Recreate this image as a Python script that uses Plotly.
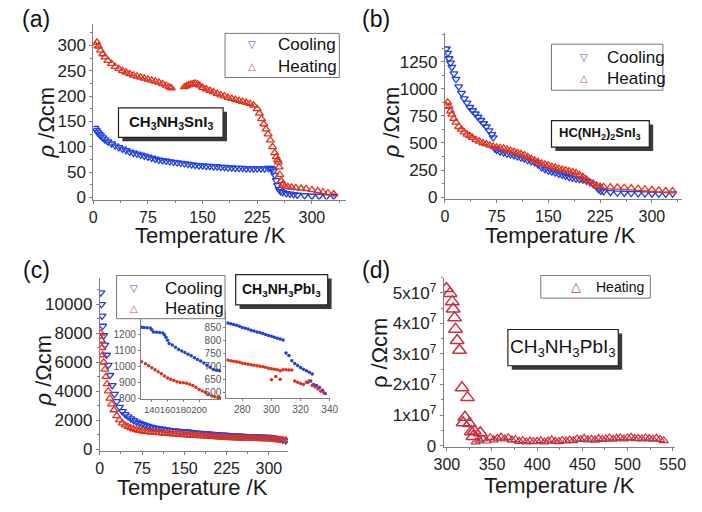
import plotly.graph_objects as go

# ---------------- data ----------------
# (a) CH3NH3SnI3
a_cool_T = [2, 4, 6, 8, 10, 13, 16, 20,
            25, 30, 35, 40, 45, 50, 55, 60, 65, 70, 75, 80, 85, 90, 95, 100,
            105, 110, 115, 120, 125, 130, 135, 140, 145, 150, 155, 160, 165, 170,
            175, 180, 185, 190, 195, 200, 205, 210, 215, 220, 225, 230, 235, 240,
            243, 245, 247, 249, 251, 253, 255, 257, 260,
            265, 270, 275, 280, 290, 300, 310, 320, 330]
a_cool_rho = [137, 133, 129, 125, 122, 118, 114, 110,
              106, 102, 99, 96, 93, 90, 88, 86, 84, 82, 80, 78, 76, 74, 73, 72,
              71, 70, 69, 68, 67, 66, 65, 64, 63, 63, 62, 62, 61, 61,
              60, 60, 59, 59, 58, 58, 58, 57, 57, 57, 57, 57, 57, 58,
              58, 56, 52, 44, 34, 24, 16, 12, 10,
              8, 7, 6, 5, 4, 3, 3, 2, 3]
a_heat_T = [3, 5, 7, 10, 13, 16, 20,
            25, 30, 35, 40, 45, 50, 55, 60, 65, 70, 75, 80, 85, 90, 95, 100,
            104, 107,
            125, 128, 131, 134, 137, 140, 143, 146, 150,
            155, 160, 165, 170, 175, 180, 185, 190, 195, 200, 205, 210, 215, 220, 225,
            228, 231, 234, 237, 240, 243, 246, 249, 251, 253, 254, 255, 256, 258, 260,
            263, 267, 272, 278, 285, 292, 300, 308, 315, 322, 330]
a_heat_rho = [300, 306, 298, 290, 283, 277, 270,
              264, 258, 254, 250, 247, 244, 241, 239, 237, 235, 233, 231, 229, 227, 224, 221,
              218, 216,
              218, 220, 222, 223, 224, 225, 223, 221, 217,
              214, 211, 208, 205, 202, 200, 197, 195, 193, 191, 189, 187, 185, 182, 175,
              166, 155, 145, 135, 125, 113, 100, 88, 80, 74, 70, 60, 45, 33, 26,
              22, 21, 20, 19, 18, 17, 15, 13, 11, 9, 7]

# (b) HC(NH2)2SnI3
b_cool_T = [2, 4, 6, 8, 10, 13, 16, 20,
            24, 28, 32, 36, 40, 44, 48, 52, 56, 60, 64, 68, 70,
            72, 75,
            80, 85, 90, 95, 100, 105, 110, 115, 120, 125, 130, 135, 140, 145, 150,
            155, 160, 165, 170, 175, 180, 185, 190, 195, 200, 205, 210, 215, 220,
            223, 226, 230,
            240, 250, 260, 270, 280, 290, 300, 310, 320, 330]
b_cool_rho = [1370, 1330, 1280, 1240, 1200, 1140, 1090, 1020,
              960, 910, 870, 830, 800, 770, 740, 710, 680, 650, 615, 580, 550,
              450, 435,
              420, 410, 400, 395, 385, 375, 365, 355, 340, 330, 320, 300, 275, 258, 245,
              235, 225, 215, 205, 195, 185, 178, 170, 165, 160, 150, 140, 120, 95,
              70, 58, 52,
              45, 40, 38, 36, 34, 32, 31, 30, 30, 32]
b_heat_T = [2, 4, 6, 8, 10, 13, 16, 20, 24, 28, 32, 36, 40,
            45, 50, 55, 60, 65, 70, 75, 80, 85, 90, 95, 100, 105, 110, 115, 120,
            125, 130, 135, 140, 145, 150, 155, 160, 165, 170, 175, 180, 185, 190,
            195, 200, 205, 210, 215, 220, 225, 230,
            240, 250, 260, 270, 280, 290, 300, 310, 320, 330]
b_heat_rho = [840, 875, 835, 795, 765, 725, 690, 650, 625, 600, 580, 565, 550,
              530, 515, 500, 490, 478, 468, 460, 455, 450, 440, 430, 420, 410, 400, 388, 372,
              355, 340, 325, 312, 302, 293, 283, 273, 263, 255, 248, 240, 232, 222,
              205, 188, 165, 140, 120, 105, 97, 95,
              92, 90, 87, 83, 78, 73, 68, 62, 58, 55]

# (c) CH3NH3PbI3 (main)
c_cool_T = [2, 3, 4, 5, 7, 9, 12, 15, 18, 22, 26, 30,
            35, 40, 45, 50, 55, 60, 65, 70, 75, 80, 85, 90, 95,
            100, 105, 110, 115, 120, 125, 130, 135, 140, 145,
            150, 155, 160, 165, 170, 175, 180, 185, 190, 195,
            200, 205, 210, 215, 220, 225, 230, 235, 240, 245,
            250, 255, 260, 265, 270, 275, 280, 285, 290, 295,
            300, 305, 310, 315, 320, 325, 330]
c_cool_rho = [10800, 10000, 9200, 8500, 7850, 7200, 6500, 5800, 5100, 4400, 3800, 3300,
              2900, 2600, 2400, 2250, 2100, 1980, 1880, 1800, 1720, 1650, 1590, 1540, 1490,
              1450, 1420, 1390, 1360, 1330, 1300, 1280, 1260, 1245, 1230,
              1220, 1210, 1170, 1140, 1125, 1110, 1095, 1080, 1065, 1050,
              1035, 1020, 1005, 990, 975, 960, 950, 940, 930, 920,
              910, 900, 885, 875, 866, 858, 850, 842, 835, 828,
              820, 810, 760, 720, 690, 640, 590]
c_heat_T = [2, 3, 4, 5, 7, 9, 11, 13, 15, 18, 21, 25,
            30, 35, 40, 45, 50, 55, 60, 65, 70, 75, 80, 85, 90, 95,
            100, 105, 110, 115, 120, 125, 130, 135, 140, 145,
            150, 155, 160, 165, 170, 175, 180, 185, 190, 195,
            200, 205, 210, 215, 220, 225, 230, 235, 240, 245,
            250, 255, 260, 265, 270, 275, 280, 285, 290, 295,
            300, 305, 310, 315, 320, 325, 330]
c_heat_rho = [8000, 7500, 7000, 6500, 6000, 5500, 5000, 4500, 4000, 3500, 3100, 2700,
              2300, 2000, 1800, 1650, 1550, 1460, 1390, 1330, 1280, 1240, 1210, 1185, 1165, 1150,
              1135, 1120, 1100, 1085, 1070, 1055, 1045, 1030, 1020, 1000,
              985, 970, 950, 935, 925, 918, 910, 902, 890, 878,
              860, 845, 832, 820, 808, 795, 785, 775, 765, 758,
              750, 745, 740, 735, 730, 725, 718, 712, 706, 702,
              698, 690, 680, 645, 630, 620, 600]

# (c) inset 1 (130-225 K)
i1_cool_T = [127, 130, 134, 138, 140, 142, 146, 150, 154, 156, 158, 160, 162, 166, 170,
             174, 178, 182, 186, 190, 194, 198, 202, 206, 210, 214, 218, 222, 226]
i1_cool_rho = [1247, 1246, 1244, 1243, 1232, 1218, 1216, 1214, 1212, 1200, 1185, 1165, 1145, 1135, 1122,
               1108, 1098, 1088, 1078, 1068, 1055, 1045, 1035, 1022, 1008, 995, 982, 976, 974]
i1_heat_T = [127, 132, 136, 140, 144, 148, 152, 156, 160, 164, 168, 172, 176,
             180, 184, 188, 192, 196, 200, 204, 208, 212, 216, 220, 224, 226]
i1_heat_rho = [1031, 1018, 1005, 992, 980, 967, 954, 941, 928, 920, 912, 905, 900,
               898, 894, 888, 880, 870, 856, 846, 836, 826, 815, 810, 805, 803]

# (c) inset 2 (270-340 K)
i2_cool_T = [270, 272, 274, 276, 278, 280, 282, 284, 286, 288, 290, 292, 294, 296, 298,
             300, 302, 304, 306, 308, 310, 312, 314, 316, 318, 320, 322, 324, 326, 328,
             325, 327, 329, 331, 333, 335, 337]
i2_cool_rho = [866, 863, 860, 857, 853, 849, 846, 843, 838, 835, 832, 830, 826, 822, 818,
               815, 812, 808, 805, 801, 752, 742, 722, 712, 704, 696, 690, 684, 678, 672,
               640, 645, 632, 628, 620, 610, 598]
i2_heat_T = [270, 272, 274, 276, 278, 280, 282, 284, 286, 288, 290, 292, 294, 296, 298,
             300, 302, 304, 306, 308, 310, 312, 314, 300, 303, 306,
             316, 318, 320, 322, 324, 326, 328, 330, 332, 334, 336]
i2_heat_rho = [725, 722, 720, 718, 716, 713, 711, 709, 707, 705, 703, 701, 699, 697, 694,
               692, 690, 688, 684, 688, 688, 687, 687, 650, 662, 652,
               645, 640, 636, 632, 640, 646, 628, 622, 615, 606, 600]

# (d) CH3NH3PbI3 above room temperature
d_T_steep = [299.5, 303.5, 306, 307, 308.6, 309.6, 311.4, 314, 316.8, 318,
             320, 322.9, 325, 327, 329, 330.4, 337]
d_rho_steep = [5.14e7, 4.98e7, 4.71e7, 4.47e7, 4.18e7, 3.81e7, 3.44e7, 3.12e7, 1.89e7, 0.75e7,
               0.93e7, 1.57e7, 0.72e7, 0.45e7, 0.30e7, 0.48e7, 0.42e7]
d_T_band = [332, 336, 340, 344, 348, 352, 356, 360, 364, 368, 372, 376, 380, 384, 388,
            392, 396, 400, 404, 408, 412, 416, 420, 424, 428, 432, 436, 440, 444, 448,
            452, 456, 460, 464, 468, 472, 476, 480, 484, 488, 492, 496, 500, 504, 508,
            512, 516, 520, 524, 528, 532, 536, 540]
d_rho_band_1e6 = [1.2, 1.8, 2.2, 1.5, 2.6, 1.9, 2.4, 2.8, 2.2, 2.6,
                  1.8, 2.0, 1.4, 1.6, 1.2, 1.5, 1.3, 1.4, 1.6, 1.2,
                  1.5, 1.9, 1.4, 1.3, 1.7, 1.5, 1.8, 1.6, 2.2, 2.0,
                  2.4, 1.9, 2.1, 1.8, 2.3, 2.0, 2.2, 2.5, 2.1, 2.4,
                  2.6, 2.2, 2.5, 2.7, 2.3, 2.4, 2.2, 2.5, 2.3, 2.1,
                  2.4, 2.0, 1.6]

x_ticks_low = [0, 75, 150, 225, 300]
a_y_ticks = [0, 50, 100, 150, 200, 250, 300]
b_y_ticks = [0, 250, 500, 750, 1000, 1250]
c_y_ticks = [0, 2000, 4000, 6000, 8000, 10000]
c_y_labels = ["0", "2000", "4000", "6000", "8000", "10000"]
d_x_ticks = [300, 350, 400, 450, 500, 550]
d_y_ticks = [0, 1e7, 2e7, 3e7, 4e7, 5e7]
d_y_labels = ["0", "1x10<sup>7</sup>", "2x10<sup>7</sup>", "3x10<sup>7</sup>",
              "4x10<sup>7</sup>", "5x10<sup>7</sup>"]
i1_x_ticks = [140, 160, 180, 200]
i1_y_ticks = [800, 900, 1000, 1100, 1200]
i2_x_ticks = [280, 300, 320, 340]
i2_y_ticks = [600, 650, 700, 750, 800, 850, 900]

legend_names = ["Cooling", "Heating"]

# ---------------- styling ----------------
W, H = 702, 512
FONT = "Liberation Sans, Arial, sans-serif"
SYMFONT = "DejaVu Sans, sans-serif"
BLUE = "#2040e0"
RED = "#e0321e"
LEG_BLUE = "#3848a8"
LEG_RED = "#c85a5a"
AXC = "#808080"


def fx(p):
    return p / W


def fy(p):
    return 1 - p / H


fig = go.Figure()


def add_pair(xa, ya, cT, cR, hT, hR):
    fig.add_trace(go.Scatter(
        x=cT, y=cR, mode="markers", name=legend_names[0], xaxis=xa, yaxis=ya, showlegend=False,
        marker=dict(symbol="triangle-down-open", size=7, color=BLUE,
                    line=dict(width=1.3, color=BLUE))))
    fig.add_trace(go.Scatter(
        x=hT, y=hR, mode="markers", name=legend_names[1], xaxis=xa, yaxis=ya, showlegend=False,
        marker=dict(symbol="triangle-up-open", size=7, color=RED,
                    line=dict(width=1.3, color=RED))))


add_pair("x", "y", a_cool_T, a_cool_rho, a_heat_T, a_heat_rho)
add_pair("x2", "y2", b_cool_T, b_cool_rho, b_heat_T, b_heat_rho)
add_pair("x3", "y3", c_cool_T, c_cool_rho, c_heat_T, c_heat_rho)

# insets
for xa, ya, cT, cR, hT, hR in [("x5", "y5", i1_cool_T, i1_cool_rho, i1_heat_T, i1_heat_rho),
                               ("x6", "y6", i2_cool_T, i2_cool_rho, i2_heat_T, i2_heat_rho)]:
    fig.add_trace(go.Scatter(x=cT, y=cR, mode="markers", xaxis=xa, yaxis=ya, showlegend=False,
                             marker=dict(symbol="circle", size=3.5, color=BLUE)))
    fig.add_trace(go.Scatter(x=hT, y=hR, mode="markers", xaxis=xa, yaxis=ya, showlegend=False,
                             marker=dict(symbol="circle", size=3.5, color=RED)))

# (d)
DRED = "#c83040"
fig.add_trace(go.Scatter(
    x=d_T_steep, y=d_rho_steep, mode="markers", name="Heating", xaxis="x4", yaxis="y4",
    showlegend=False,
    marker=dict(symbol="triangle-up-open", size=12, color=DRED, line=dict(width=1.5, color=DRED))))
fig.add_trace(go.Scatter(
    x=d_T_band, y=[v * 1e6 for v in d_rho_band_1e6], mode="markers", name="Heating",
    xaxis="x4", yaxis="y4", showlegend=False,
    marker=dict(symbol="triangle-up-open", size=8, color=DRED, line=dict(width=1.2, color=DRED))))


def axis(domain, rng, tickvals, anchor, minor_dtick=None, ticktext=None, size=17, tlen=3,
         color="#222"):
    d = dict(domain=domain, range=rng, anchor=anchor, tickmode="array", tickvals=tickvals,
             showline=True, linecolor=AXC, linewidth=1, ticks="outside", ticklen=tlen,
             tickcolor=AXC, showgrid=False, zeroline=False, tickangle=0,
             tickfont=dict(family=FONT, size=size, color=color))
    if ticktext is not None:
        d["ticktext"] = ticktext
    if minor_dtick is not None:
        d["minor"] = dict(ticks="outside", ticklen=2, tickcolor=AXC, dtick=minor_dtick,
                          tick0=tickvals[0], showgrid=False)
    return d


fig.update_layout(
    width=W, height=H, margin=dict(l=0, r=0, t=0, b=0),
    paper_bgcolor="white", plot_bgcolor="rgba(0,0,0,0)",
    font=dict(family=FONT, color="#111"), showlegend=False,
    xaxis=axis([fx(86), fx(347)], [0, 347], x_ticks_low, "y", 37.5, size=16),
    yaxis=axis([fy(201.5), fy(22)], [-4, 343], a_y_ticks, "x", 25),
    xaxis2=axis([fx(449), fx(694)], [0, 344], x_ticks_low, "y2", 37.5, size=16),
    yaxis2=axis([fy(201), fy(32)], [-18, 1512], b_y_ticks, "x2", 125),
    xaxis3=axis([fx(92.7), fx(287)], [0, 334], x_ticks_low, "y3", 37.5, size=16),
    yaxis3=axis([fy(457.5), fy(281)], [-100, 11850], c_y_ticks, "x3", 1000,
                ticktext=c_y_labels),
    xaxis4=axis([fx(447.7), fx(686)], [296.5, 552], d_x_ticks, "y4", 25, size=16),
    yaxis4=axis([fy(454), fy(281)], [-0.05e7, 5.5e7], d_y_ticks, "x4", 0.5e7,
                ticktext=d_y_labels),
    xaxis5=axis([fx(135), fx(218)], [126, 228], i1_x_ticks, "y5", None, size=9.5, tlen=2, color="#555"),
    yaxis5=axis([fy(405), fy(320)], [795, 1320], i1_y_ticks, "x5", None, size=10, tlen=2, color="#555"),
    xaxis6=axis([fx(223.3), fx(330)], [269, 340], i2_x_ticks, "y6", None, size=10, tlen=2, color="#555"),
    yaxis6=axis([fy(404), fy(315)], [580, 912], i2_y_ticks, "x6", None, size=10, tlen=2, color="#555"),
)


def rect(x0, y0, x1, y1, fill, lw=0.0, lc="#222"):
    fig.add_shape(type="rect", xref="paper", yref="paper",
                  x0=fx(x0), x1=fx(x1), y0=fy(y1), y1=fy(y0),
                  fillcolor=fill, line=dict(width=lw, color=lc))


def ann(text, x, y, size, angle=0, bold=False, xanchor="center", color="#111", family=FONT):
    fig.add_annotation(text=f"<b>{text}</b>" if bold else text, xref="paper", yref="paper",
                       x=fx(x), y=fy(y), xanchor=xanchor, yanchor="middle",
                       showarrow=False, textangle=angle,
                       font=dict(family=family, size=size, color=color))


# boxes with drop shadows behind the compound labels
for x0, y0, x1, y1 in [(112, 108, 220, 138), (559, 121, 660, 148),
                       (233, 278, 328, 309), (514, 334, 628, 371)]:
    rect(x0 + 4, y0 + 4, x1 + 4, y1 + 4, "#3a3a3a")
    rect(x0, y0, x1, y1, "white", 1.2)

ann("CH<sub>3</sub>NH<sub>3</sub>SnI<sub>3</sub>", 166, 123, 15, bold=True)
ann("HC(NH<sub>2</sub>)<sub>2</sub>SnI<sub>3</sub>", 609.5, 134.5, 13, bold=True)
ann("CH<sub>3</sub>NH<sub>3</sub>PbI<sub>3</sub>", 280.5, 293.5, 14, bold=True)
ann("CH<sub>3</sub>NH<sub>3</sub>PbI<sub>3</sub>", 571, 352.5, 19)

# legend boxes (frame, key glyphs, labels)
legends = [((222, 32, 340, 77), 250, 275, (43.5, 65.5), 17),
           ((559, 43, 674, 90), 593, 614, (57, 78), 17),
           ((110, 279, 222, 323), 128, 158, (292.5, 312.5), 17)]
for (x0, y0, x1, y1), sx, tx, ys, fs in legends:
    rect(x0, y0, x1, y1, "white", 1, "#777")
    ann("▽", sx, ys[0], 10, color=LEG_BLUE, family=SYMFONT)
    ann("△", sx, ys[1], 10, color=LEG_RED, family=SYMFONT)
    ann(legend_names[0], tx, ys[0], fs, xanchor="left")
    ann(legend_names[1], tx, ys[1], fs, xanchor="left")
rect(548, 279, 661, 302, "white", 1, "#777")
ann("△", 584, 290.5, 13, color="#b04a6a", family=SYMFONT)
ann(legend_names[1], 603, 290.5, 14, xanchor="left")

# panel labels
for lab, x, y in [("(a)", 27, 17), ("(b)", 378, 17), ("(c)", 27, 273), ("(d)", 378, 273)]:
    ann(lab, x, y, 23)

# axis titles
for x, y in [(207, 238), (568, 238), (188, 495), (567, 493)]:
    ann("Temperature /K", x, y, 22, color="#1a1a1a")
for x, y in [(38, 123), (394, 123), (35, 376)]:
    ann("<i>ρ</i> /Ωcm", x, y, 22, angle=-90, color="#1a1a1a")
ann("ρ /Ωcm", 381, 358, 22, angle=-90, color="#1a1a1a")

fig.write_html("out.html")
